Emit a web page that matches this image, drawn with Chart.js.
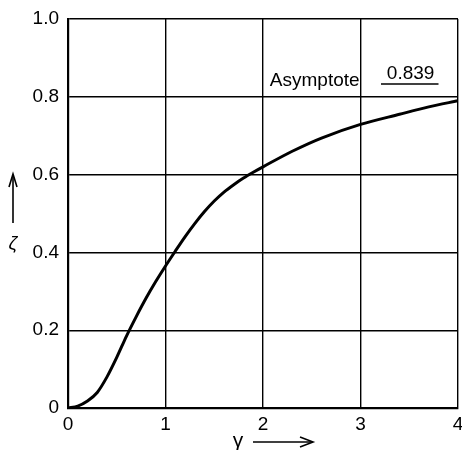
<!DOCTYPE html>
<html>
<head>
<meta charset="utf-8">
<script src="https://cdn.jsdelivr.net/npm/chart.js@4/dist/chart.umd.min.js"></script>
<style>
  html, body { margin: 0; padding: 0; background: #fff; }
  #wrap { width: 462px; height: 450px; }
</style>
</head>
<body>
<div id="wrap"><canvas id="c" width="462" height="450"></canvas></div>
<script>
'use strict';

// gamma (x) vs zeta (y)
const gammaVals = [0, 0.1, 0.2, 0.3, 0.4, 0.5, 0.6, 0.7, 0.8, 0.9, 1.0, 1.1, 1.2, 1.3, 1.4, 1.5, 1.6, 1.7, 1.8, 1.9, 2.0, 2.3, 2.6, 3.0, 3.4, 3.7, 4.0];
const zetaVals  = [0, 0.005, 0.018, 0.04, 0.08, 0.13, 0.185, 0.235, 0.282, 0.325, 0.365, 0.403, 0.44, 0.474, 0.505, 0.532, 0.555, 0.574, 0.591, 0.606, 0.62, 0.66, 0.694, 0.729, 0.755, 0.774, 0.79];

const xTickLabels = ['0', '1', '2', '3', '4'];
const yTickLabels = ['0', '0.2', '0.4', '0.6', '0.8', '1.0'];

const asymptoteText  = 'Asymptote';
const asymptoteValue = '0.839';

const FONT = '"Liberation Sans", Arial, sans-serif';

// axis titles and the asymptote note
const notes = {
  id: 'notes',
  afterDraw(chart) {
    const { ctx, scales: { x, y } } = chart;
    ctx.save();
    ctx.fillStyle = '#000';
    ctx.strokeStyle = '#000';
    ctx.font = `19px ${FONT}`;
    ctx.textBaseline = 'alphabetic';

    // Asymptote label
    ctx.textAlign = 'left';
    ctx.fillText(asymptoteText, x.getPixelForValue(2.07), y.getPixelForValue(0.828));
    ctx.fillText(asymptoteValue, x.getPixelForValue(3.27), y.getPixelForValue(0.846));
    ctx.lineWidth = 1.5;
    ctx.beginPath();
    const uy = y.getPixelForValue(0.833);
    ctx.moveTo(x.getPixelForValue(3.21), uy);
    ctx.lineTo(x.getPixelForValue(3.8), uy);
    ctx.stroke();

    // x title: gamma with arrow
    ctx.textAlign = 'center';
    ctx.font = `21px ${FONT}`;
    ctx.fillText('γ', 238, 447);
    ctx.lineWidth = 1.6;
    ctx.beginPath();
    ctx.moveTo(253, 442);
    ctx.lineTo(312, 442);
    ctx.stroke();
    ctx.beginPath();
    ctx.moveTo(300, 437);
    ctx.lineTo(313, 442);
    ctx.lineTo(300, 447);
    ctx.stroke();

    // y title: arrow up with zeta
    ctx.beginPath();
    ctx.moveTo(13, 223);
    ctx.lineTo(13, 175);
    ctx.stroke();
    ctx.beginPath();
    ctx.moveTo(9, 187);
    ctx.lineTo(13, 174);
    ctx.lineTo(17, 187);
    ctx.stroke();
    ctx.font = `italic 19px ${FONT}`;
    ctx.fillText('ζ', 13, 249);
    ctx.restore();
  }
};

const whiteBg = {
  id: 'whiteBg',
  beforeDraw(chart) {
    const { ctx, width, height } = chart;
    ctx.save();
    ctx.fillStyle = '#fff';
    ctx.fillRect(0, 0, width, height);
    ctx.restore();
  }
};

new Chart(document.getElementById('c'), {
  type: 'line',
  data: {
    datasets: [{
      data: gammaVals.map((g, i) => ({ x: g, y: zetaVals[i] })),
      borderColor: '#000',
      borderWidth: 3,
      pointRadius: 0,
      tension: 0.3,
      fill: false,
    }],
  },
  options: {
    responsive: false,
    animation: false,
    layout: { padding: { left: 0, top: 19, right: 4, bottom: 0 } },
    plugins: {
      legend: { display: false },
      tooltip: { enabled: false },
    },
    scales: {
      x: {
        type: 'linear',
        min: 0,
        max: 4,
        afterFit: s => { s.height = 42; s.paddingRight = 0; s.paddingLeft = 0; },
        ticks: {
          stepSize: 1,
          padding: 5,
          color: '#000',
          font: { family: FONT, size: 19 },
          callback: (v, i) => xTickLabels[i],
        },
        grid: { color: '#000', lineWidth: 1.4, drawTicks: false },
        border: { color: '#000', width: 2.2 },
      },
      y: {
        min: 0,
        max: 1,
        afterFit: s => { s.width = 68; s.paddingTop = 0; s.paddingBottom = 0; },
        ticks: {
          stepSize: 0.2,
          padding: 9,
          color: '#000',
          font: { family: FONT, size: 19 },
          callback: (v, i) => yTickLabels[i],
        },
        grid: { color: '#000', lineWidth: 1.4, drawTicks: false },
        border: { color: '#000', width: 2.2 },
      },
    },
  },
  plugins: [whiteBg, notes],
});
</script>
</body>
</html>
